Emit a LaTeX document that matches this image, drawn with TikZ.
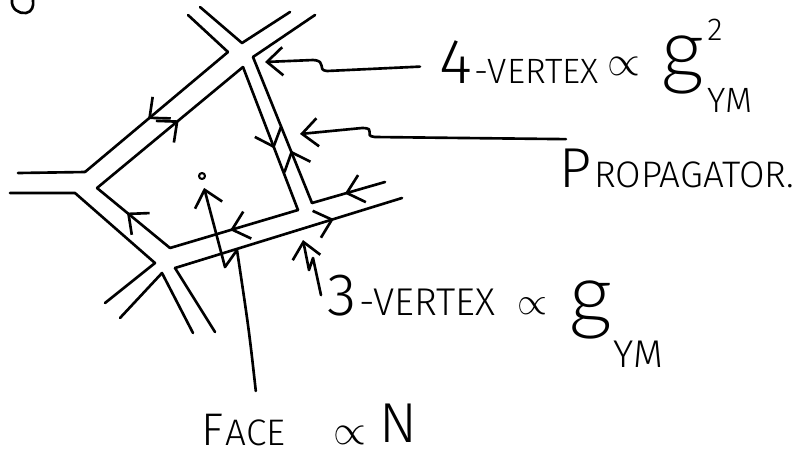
\documentclass[tikz,border=0pt]{standalone}
\usepackage{fontspec}
\setsansfont{Fira Sans}[UprightFont=* Light]
\IfFontExistsTF{Lato Light}{\newfontfamily\gfont{Lato Light}}{\newfontfamily\gfont{Liberation Sans}}
\usetikzlibrary{arrows.meta,decorations.markings}
\begin{document}
\begin{tikzpicture}[x=0.01cm,y=-0.01cm,line cap=round,line join=round,line width=0.75pt,
  >={Straight Barb[length=4.5pt,width=8pt]},
  flow/.style={postaction={decorate},decoration={markings,mark=at position #1 with {\arrow{>}}}},
  lbl/.style={inner sep=0pt,anchor=base west},
  sz/.style={font=\sffamily\fontsize{#1pt}{#1pt}\selectfont},
  gsz/.style={font=\gfont\fontsize{#1pt}{#1pt}\selectfont},
  rel/.style={inner sep=0pt,font=\fontsize{#1pt}{#1pt}\selectfont}]
  \useasboundingbox (0,0) rectangle (809,454);
  % bit of a letter cut off at the corner
  \draw (12,0) .. controls (11,9) and (19,14) .. (26,13) .. controls (32,12) and (34,6) .. (33,0);

  % the face
  \coordinate (f1) at (97,188);
  \coordinate (f2) at (243,67);
  \coordinate (f3) at (298,210);
  \coordinate (f4) at (170,248);
  \draw[flow=0.56] (f1) -- (f2);
  \draw[flow=0.57] (f2) -- (f3);
  \draw[flow=0.53] (f3) -- (f4);
  \draw[flow=0.59] (f4) -- (f1);

  % top 4-vertex and the ribbons leaving it
  \draw (200,7) -- (242,43) -- (290,12);
  \draw (188,15) -- (228,52);
  \draw[flow=0.56] (228,52) -- (85,172);
  \draw (85,172) -- (18,173);
  \draw (315,15) -- (253,57);
  \draw[flow=0.36] (312,203) -- (253,57);
  \draw[flow=0.55] (385,182) -- (312,203);
  % left 3-vertex, bottom 4-vertex
  \draw (10,193) -- (75,193) -- (155,263) -- (105,303);
  \draw (120,318) -- (162,273) -- (193,333);
  \draw (215,332) -- (175,268);
  \draw[flow=0.70] (175,268) -- (402,198);

  % labels
  \node[lbl,sz=18] (four) at (438,83) {4};
  \node[lbl,sz=10] (fourtxt) at (four.base east) {-VERTEX};
  \node[rel=12] (fourpr) at (624,66) {$\propto$};
  \node[lbl,gsz=24] (fourg) at (660,78) {g};
  \node[lbl,sz=9] (foursup) at (706,40) {2};
  \node[lbl,sz=10] (foursub) at (706,112) {YM};

  \node[lbl,sz=16] (prop) at (558,187) {P};
  \node[lbl,sz=10.5] (proptxt) at (prop.base east) {ROPAGATOR.};

  \node[lbl,sz=17] (three) at (326,315) {3};
  \node[lbl,sz=11] (threetxt) at (three.base east) {-VERTEX};
  \node[rel=11] (threepr) at (532,306) {$\propto$};
  \node[lbl,gsz=24] (threeg) at (568,323) {g};
  \node[lbl,sz=11] (threesub) at (612,367) {YM};

  \node[lbl,sz=13] (face) at (200,445) {F};
  \node[lbl,sz=10.5] (facetxt) at (face.base east) {ACE};
  \node[rel=12] (facepr) at (350,435) {$\propto$};
  \node[lbl,sz=16] (facen) at (378,442) {N};

  % pointers
  \coordinate (fourpt) at (265,62);
  \coordinate (proppt) at (300,134);
  \coordinate (threept) at (303,240);
  \node[circle,draw,inner sep=0pt,minimum size=0.06cm,line width=0.6pt] (dot) at (202,176) {};
  \draw[->] ([xshift=-0.18cm,yshift=-0.05cm]four.west) -- (327,71) .. controls (316,70) and (328,61) .. (313,60) -- (fourpt);
  \draw[->] ([xshift=0.08cm,yshift=0.08cm]prop.north west) -- (375,137) .. controls (362,136) and (378,128) .. (362,128) -- (proppt);
  \draw[->] ([xshift=-0.05cm]three.west) -- (313,258) -- (309,270) -- (threept);
  \draw[->,shorten >=2.3pt] ([yshift=0.27cm]facetxt.north) .. controls (249,330) .. (237,250) -- (225,267) -- (dot.south);
\end{tikzpicture}
\end{document}
